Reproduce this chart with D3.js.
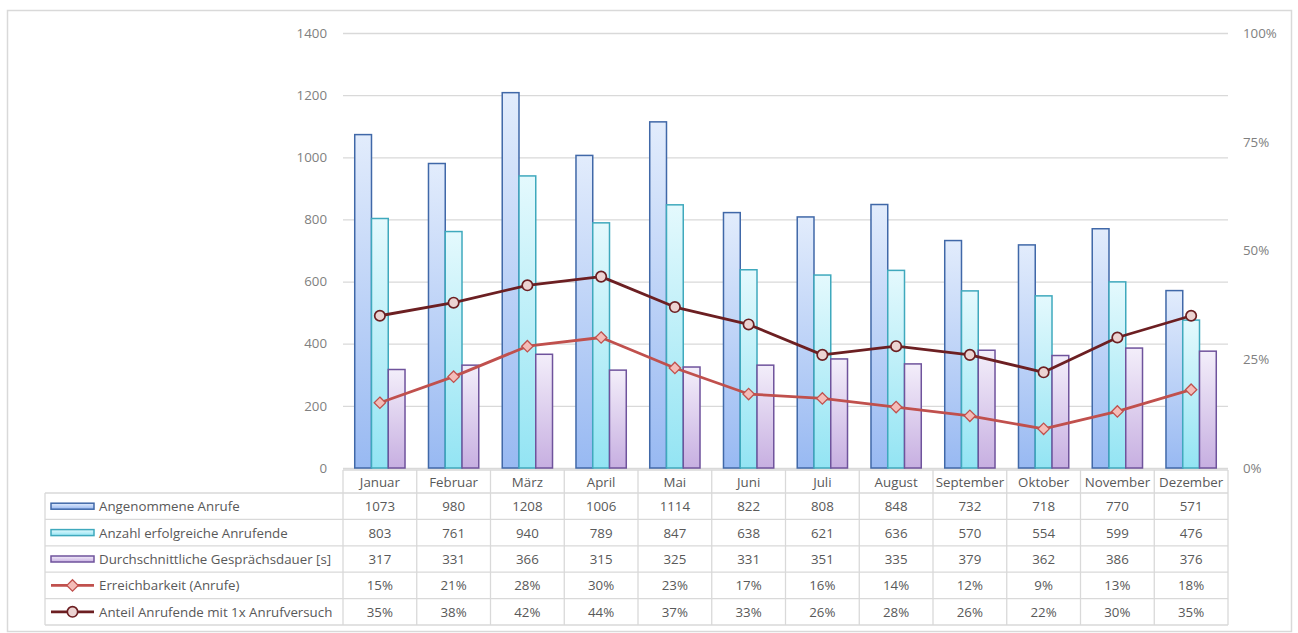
<!DOCTYPE html>
<html>
<head>
<meta charset="utf-8">
<script src="https://cdn.jsdelivr.net/npm/d3@7"></script>
<style>
  html, body { margin: 0; padding: 0; background: #fff; }
  svg { display: block; font-family: "Open Sans", "Noto Sans", sans-serif; }
</style>
</head>
<body>
<svg id="chart" width="1298" height="633"></svg>
<script>
// Monthly call-centre figures
const months = ["Januar","Februar","März","April","Mai","Juni","Juli","August","September","Oktober","November","Dezember"];
const angenommen = [1073,980,1208,1006,1114,822,808,848,732,718,770,571];
const erfolgreich = [803,761,940,789,847,638,621,636,570,554,599,476];
const dauer = [317,331,366,315,325,331,351,335,379,362,386,376];
const erreichbarkeit = [15,21,28,30,23,17,16,14,12,9,13,18];
const anteilErstversuch = [35,38,42,44,37,33,26,28,26,22,30,35];
const leftTicks = [0,200,400,600,800,1000,1200,1400];
const rightTicks = [0,25,50,75,100];

const barSeries = [
  { name: "Angenommene Anrufe", values: angenommen, id: "gBlue", top: "#e2ecfc", bottom: "#98b9f2", stroke: "#4068a8" },
  { name: "Anzahl erfolgreiche Anrufende", values: erfolgreich, id: "gCyan", top: "#e4f9fd", bottom: "#93e4f3", stroke: "#3fa9bd" },
  { name: "Durchschnittliche Gesprächsdauer [s]", values: dauer, id: "gPurple", top: "#f3eefa", bottom: "#c7afe1", stroke: "#6f539c" }
];
const lineSeries = [
  { name: "Erreichbarkeit (Anrufe)", values: erreichbarkeit, stroke: "#c0504d", fill: "#f4bcb8", marker: "diamond" },
  { name: "Anteil Anrufende mit 1x Anrufversuch", values: anteilErstversuch, stroke: "#6c1f22", fill: "#ecd3d2", marker: "circle" }
];

const svg = d3.select("#chart");
const plot = { left: 343, right: 1228, top: 33, bottom: 468 };
const fontSize = 13.3;

// outer frame
svg.append("rect").attr("x", 7.5).attr("y", 10.5).attr("width", 1284).attr("height", 621)
  .attr("fill", "#fff").attr("stroke", "#d9d9d9").attr("stroke-width", 1.5);

const defs = svg.append("defs");
barSeries.forEach(s => {
  const g = defs.append("linearGradient").attr("id", s.id).attr("x1", 0).attr("y1", 0).attr("x2", 0).attr("y2", 1);
  g.append("stop").attr("offset", "0%").attr("stop-color", s.top);
  g.append("stop").attr("offset", "100%").attr("stop-color", s.bottom);
});

const x = d3.scaleBand().domain(months).range([plot.left, plot.right]).paddingInner(0).paddingOuter(0);
const xInner = d3.scaleBand().domain(d3.range(3)).range([0, x.bandwidth()]).paddingOuter(0.7).paddingInner(0);
const y = d3.scaleLinear().domain([0, 1400]).range([plot.bottom, plot.top]);
const yPct = d3.scaleLinear().domain([0, 100]).range([plot.bottom, plot.top]);

// gridlines + left axis
const leftAxis = d3.axisLeft(y).tickValues(leftTicks).tickSize(-(plot.right - plot.left)).tickPadding(16).tickFormat(d3.format("d"));
const ga = svg.append("g").attr("transform", `translate(${plot.left},0)`).call(leftAxis);
ga.select(".domain").remove();
ga.selectAll(".tick line").attr("stroke", "#d9d9d9").attr("stroke-width", 1.3);
ga.selectAll(".tick text").attr("fill", "#808080").attr("font-size", fontSize).attr("font-family", "'Open Sans', sans-serif");

// right axis
const rightAxis = d3.axisRight(yPct).tickValues(rightTicks).tickSize(0).tickPadding(15).tickFormat(d => d + "%");
const gr = svg.append("g").attr("transform", `translate(${plot.right},0)`).call(rightAxis);
gr.select(".domain").remove();
gr.selectAll(".tick text").attr("fill", "#808080").attr("font-size", fontSize).attr("font-family", "'Open Sans', sans-serif");

// bars
barSeries.forEach((s, si) => {
  svg.append("g").selectAll("rect").data(s.values).join("rect")
    .attr("x", (d, i) => x(months[i]) + xInner(si))
    .attr("y", d => y(d))
    .attr("width", xInner.bandwidth())
    .attr("height", d => y(0) - y(d))
    .attr("fill", `url(#${s.id})`)
    .attr("stroke", s.stroke).attr("stroke-width", 1.5);
});

// lines + markers
const cx = i => x(months[i]) + x.bandwidth() / 2;
const diamond = (px, py, r) => `M${px},${py - r}L${px + r},${py}L${px},${py + r}L${px - r},${py}Z`;
lineSeries.forEach(s => {
  const line = d3.line().x((d, i) => cx(i)).y(d => yPct(d));
  svg.append("path").datum(s.values).attr("d", line).attr("fill", "none")
    .attr("stroke", s.stroke).attr("stroke-width", 2.8).attr("stroke-linejoin", "round");
  const g = svg.append("g");
  if (s.marker === "circle") {
    g.selectAll("circle").data(s.values).join("circle")
      .attr("cx", (d, i) => cx(i)).attr("cy", d => yPct(d)).attr("r", 5.2)
      .attr("fill", s.fill).attr("stroke", s.stroke).attr("stroke-width", 1.7);
  } else {
    g.selectAll("path").data(s.values).join("path")
      .attr("d", (d, i) => diamond(cx(i), yPct(d), 5.7))
      .attr("fill", s.fill).attr("stroke", s.stroke).attr("stroke-width", 1.3);
  }
});

// data table
const tbl = { left: 45, headerTop: 470, headerBottom: 493, rowH: 26.4 };
const rowTop = r => tbl.headerBottom + r * tbl.rowH;
const nRows = barSeries.length + lineSeries.length;
const tg = svg.append("g");
const gridColor = "#d9d9d9";
// horizontal lines
tg.append("line").attr("x1", plot.left).attr("x2", plot.right).attr("y1", tbl.headerTop).attr("y2", tbl.headerTop)
  .attr("stroke", gridColor).attr("stroke-width", 1.3);
d3.range(nRows + 1).forEach(r => {
  tg.append("line").attr("x1", tbl.left).attr("x2", plot.right).attr("y1", rowTop(r)).attr("y2", rowTop(r))
    .attr("stroke", gridColor).attr("stroke-width", 1.3);
});
// vertical lines
tg.append("line").attr("x1", tbl.left).attr("x2", tbl.left).attr("y1", rowTop(0)).attr("y2", rowTop(nRows))
  .attr("stroke", gridColor).attr("stroke-width", 1.3);
months.concat(["_end"]).forEach((m, i) => {
  const xx = plot.left + i * x.bandwidth();
  tg.append("line").attr("x1", xx).attr("x2", xx).attr("y1", tbl.headerTop).attr("y2", rowTop(nRows))
    .attr("stroke", gridColor).attr("stroke-width", 1.3);
});
// header
tg.selectAll("text.hdr").data(months).join("text").attr("class", "hdr")
  .attr("x", m => x(m) + x.bandwidth() / 2).attr("y", (tbl.headerTop + tbl.headerBottom) / 2 + 5)
  .attr("text-anchor", "middle").attr("font-size", fontSize).attr("fill", "#595959").text(m => m);

const allSeries = barSeries.map(s => ({ ...s, kind: "bar" })).concat(lineSeries.map(s => ({ ...s, kind: "line" })));
allSeries.forEach((s, r) => {
  const midY = rowTop(r) + tbl.rowH / 2;
  // legend key
  if (s.kind === "bar") {
    tg.append("rect").attr("x", 51).attr("y", midY - 3).attr("width", 43).attr("height", 6)
      .attr("fill", `url(#${s.id})`).attr("stroke", s.stroke).attr("stroke-width", 1.5);
  } else {
    tg.append("line").attr("x1", 51).attr("x2", 94).attr("y1", midY).attr("y2", midY)
      .attr("stroke", s.stroke).attr("stroke-width", 2.8);
    if (s.marker === "circle") {
      tg.append("circle").attr("cx", 72.5).attr("cy", midY).attr("r", 5.2)
        .attr("fill", s.fill).attr("stroke", s.stroke).attr("stroke-width", 1.7);
    } else {
      tg.append("path").attr("d", diamond(72.5, midY, 5.7))
        .attr("fill", s.fill).attr("stroke", s.stroke).attr("stroke-width", 1.3);
    }
  }
  tg.append("text").attr("x", 99).attr("y", midY + 5).attr("font-size", fontSize).attr("fill", "#595959").text(s.name);
  tg.selectAll(null).data(s.values).join("text")
    .attr("x", (d, i) => cx(i)).attr("y", midY + 5).attr("text-anchor", "middle")
    .attr("font-size", fontSize).attr("fill", "#595959")
    .text(d => s.kind === "line" ? d + "%" : d);
});
</script>
</body>
</html>
